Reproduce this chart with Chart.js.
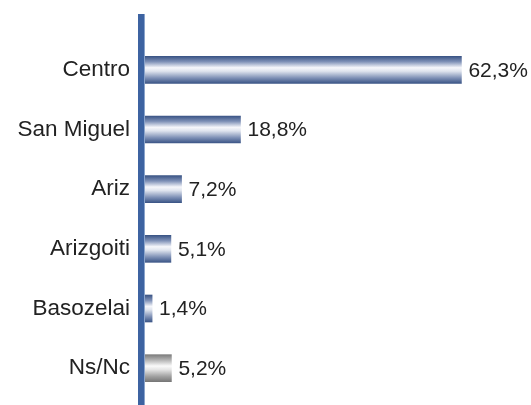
<!DOCTYPE html>
<html>
<head>
<meta charset="utf-8">
<script src="https://cdn.jsdelivr.net/npm/chart.js@4/dist/chart.umd.min.js"></script>
<style>
  html, body { margin: 0; padding: 0; background: #fff; }
  #wrap { width: 531px; height: 405px; }
</style>
</head>
<body>
<div id="wrap"><canvas id="grafico"></canvas></div>
<script>
// datos
const barrios = ['Centro', 'San Miguel', 'Ariz', 'Arizgoiti', 'Basozelai', 'Ns/Nc'];
const porcentajes = [62.3, 18.8, 7.2, 5.1, 1.4, 5.2];
const etiquetas = ['62,3%', '18,8%', '7,2%', '5,1%', '1,4%', '5,2%'];

const fuente = '"Liberation Sans", Arial, sans-serif';

// degradado vertical de cada barra (azul o gris para Ns/Nc)
function degradado(ctx) {
  const chart = ctx.chart;
  const area = chart.chartArea;
  const esGris = barrios[ctx.dataIndex] === 'Ns/Nc';
  if (!area) return esGris ? '#999' : '#5a73a3';
  const y = chart.scales.y.getPixelForValue(ctx.dataIndex);
  const g = chart.ctx.createLinearGradient(0, y - 13.5, 0, y + 13.5);
  if (esGris) {
    g.addColorStop(0, '#7c7c7c');
    g.addColorStop(0.2, '#b4b4b4');
    g.addColorStop(0.42, '#fafafa');
    g.addColorStop(0.55, '#e6e6e6');
    g.addColorStop(0.8, '#a2a2a2');
    g.addColorStop(1, '#777777');
  } else {
    g.addColorStop(0, '#3b5586');
    g.addColorStop(0.2, '#7f91b7');
    g.addColorStop(0.42, '#f6f7fb');
    g.addColorStop(0.55, '#dfe4ee');
    g.addColorStop(0.8, '#7f91b6');
    g.addColorStop(1, '#3c5687');
  }
  return g;
}

// eje vertical grueso y etiquetas de valor
const ejeYValores = {
  id: 'ejeYValores',
  afterDatasetsDraw(chart) {
    const c = chart.ctx;
    const area = chart.chartArea;
    c.save();
    c.fillStyle = '#3d63a1';
    c.fillRect(area.left - 7, area.top - 26, 6, chart.height - area.top + 26);
    c.fillStyle = '#8aa4cc';
    c.fillRect(area.left - 1, area.top - 26, 1, chart.height - area.top + 26);

    c.font = '21px ' + fuente;
    c.fillStyle = '#222';
    c.textAlign = 'left';
    c.textBaseline = 'middle';
    chart.getDatasetMeta(0).data.forEach((barra, i) => {
      c.fillText(etiquetas[i], barra.x + 7, barra.y + 1);
    });
    c.restore();
  }
};

new Chart(document.getElementById('grafico'), {
  type: 'bar',
  data: {
    labels: barrios,
    datasets: [{
      data: porcentajes,
      backgroundColor: degradado,
      borderWidth: 0,
      barThickness: 27
    }]
  },
  options: {
    indexAxis: 'y',
    responsive: true,
    maintainAspectRatio: false,
    animation: false,
    layout: { padding: { top: 40, bottom: 7, left: 0, right: 0 } },
    scales: {
      x: {
        display: false,
        min: 0,
        max: 76
      },
      y: {
        grid: { display: false, drawTicks: false },
        border: { display: false },
        ticks: {
          padding: 15,
          color: '#222',
          font: { family: fuente, size: 22.5 }
        },
        afterFit(scale) {
          scale.width = 145;
          scale.paddingTop = 0;
          scale.paddingBottom = 0;
        }
      }
    },
    plugins: {
      legend: { display: false },
      tooltip: { enabled: false }
    }
  },
  plugins: [ejeYValores]
});
</script>
</body>
</html>
